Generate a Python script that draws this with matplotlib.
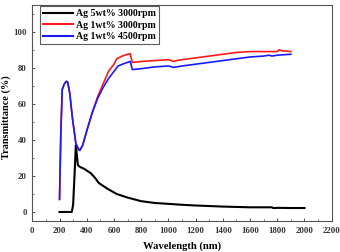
import matplotlib
matplotlib.use("Agg")
import matplotlib.pyplot as plt
from matplotlib.ticker import MultipleLocator

# Data
wl_black = [200, 250, 290, 300, 310, 320, 328, 335, 350, 380, 400, 430, 460, 490, 550, 620, 700, 800, 900, 1000, 1100, 1200, 1300, 1400, 1500, 1600, 1700, 1760, 1770, 1800, 1900, 2000]
t_black = [0, 0, 0, 4, 20, 37, 31, 26, 25, 24, 23, 21.5, 19, 16, 13, 10, 8, 6, 5, 4.5, 4, 3.6, 3.3, 3, 2.8, 2.6, 2.6, 2.6, 2.2, 2.3, 2.2, 2.2]

wl_red = [200, 210, 220, 235, 250, 260, 275, 295, 320, 340, 350, 370, 400, 440, 480, 520, 560, 600, 620, 660, 700, 720, 725, 735, 800, 900, 1000, 1040, 1060, 1100, 1200, 1300, 1400, 1500, 1600, 1700, 1800, 1815, 1830, 1900]
t_red = [7, 45, 68, 71, 72.5, 72, 66, 52, 38, 35, 34.5, 37, 45, 55, 64, 71, 78, 82, 85, 86.5, 87.5, 87.8, 86, 83, 83.5, 84, 84.5, 83.5, 84, 84.5, 85.5, 86.5, 87.5, 88.5, 89, 89, 89, 90, 89.5, 89]

wl_blue = [200, 210, 220, 235, 250, 260, 275, 295, 320, 340, 350, 370, 400, 440, 480, 520, 560, 600, 630, 680, 720, 725, 735, 800, 900, 1000, 1040, 1060, 1100, 1200, 1300, 1400, 1500, 1600, 1700, 1740, 1760, 1800, 1900]
t_blue = [7, 45, 68, 71, 72.5, 72, 66, 52, 38, 34.5, 34.2, 37, 45, 55, 63, 69, 74, 78, 81, 82.5, 83.5, 82, 79, 79.5, 80.5, 81, 80.2, 80.5, 81, 82, 83, 84, 85, 86, 86.5, 87, 86.5, 87, 87.5]

labels = ["Ag 5wt% 3000rpm", "Ag 1wt% 3000rpm", "Ag 1wt% 4500rpm"]
colors = ["black", "#ff1a1a", "#1a1aff"]

plt.rcParams["font.family"] = ["Liberation Serif", "DejaVu Serif"]
plt.rcParams["font.weight"] = "bold"

fig = plt.figure(figsize=(3.4, 2.52), dpi=100)
ax = fig.add_axes([32.3 / 340, 1 - 221 / 252, (331.7 - 32.3) / 340, (221 - 4.7) / 252])

ax.plot(wl_black, t_black, color=colors[0], lw=1.5, label=labels[0])
ax.plot(wl_red, t_red, color=colors[1], lw=1.2, label=labels[1])
ax.plot(wl_blue, t_blue, color=colors[2], lw=1.2, label=labels[2])

ax.set_xlim(0, 2200)
ax.set_ylim(-5, 115)
ax.xaxis.set_major_locator(MultipleLocator(200))
ax.xaxis.set_minor_locator(MultipleLocator(100))
ax.yaxis.set_major_locator(MultipleLocator(20))
ax.yaxis.set_minor_locator(MultipleLocator(10))
ax.tick_params(which="both", direction="in", labelsize=6.3, colors="#333333")
ax.tick_params(which="major", length=2.5, width=0.6, pad=4)
ax.tick_params(which="minor", length=1.5, width=0.5)
for s in ax.spines.values():
    s.set_color("#555555")
    s.set_linewidth(0.8)

ax.set_xlabel("Wavelength (nm)", fontsize=7.7, fontweight="bold", labelpad=5)
ax.set_ylabel("Transmittance (%)", fontsize=7.4, fontweight="bold", va="center")
ax.yaxis.set_label_coords(-0.087, 0.48)

leg = ax.legend(loc="upper left", fontsize=7.1, handlelength=3.1, handletextpad=0.3,
                borderpad=0.3, labelspacing=0.25, frameon=True, fancybox=False,
                bbox_to_anchor=(0.02, 1.0), borderaxespad=0.15)
leg.get_frame().set_edgecolor("#333333")
leg.get_frame().set_linewidth(0.8)
for t in leg.get_texts():
    t.set_fontweight("bold")
for line in leg.get_lines():
    line.set_linewidth(1.5)

fig.savefig("out.png", dpi=100)
